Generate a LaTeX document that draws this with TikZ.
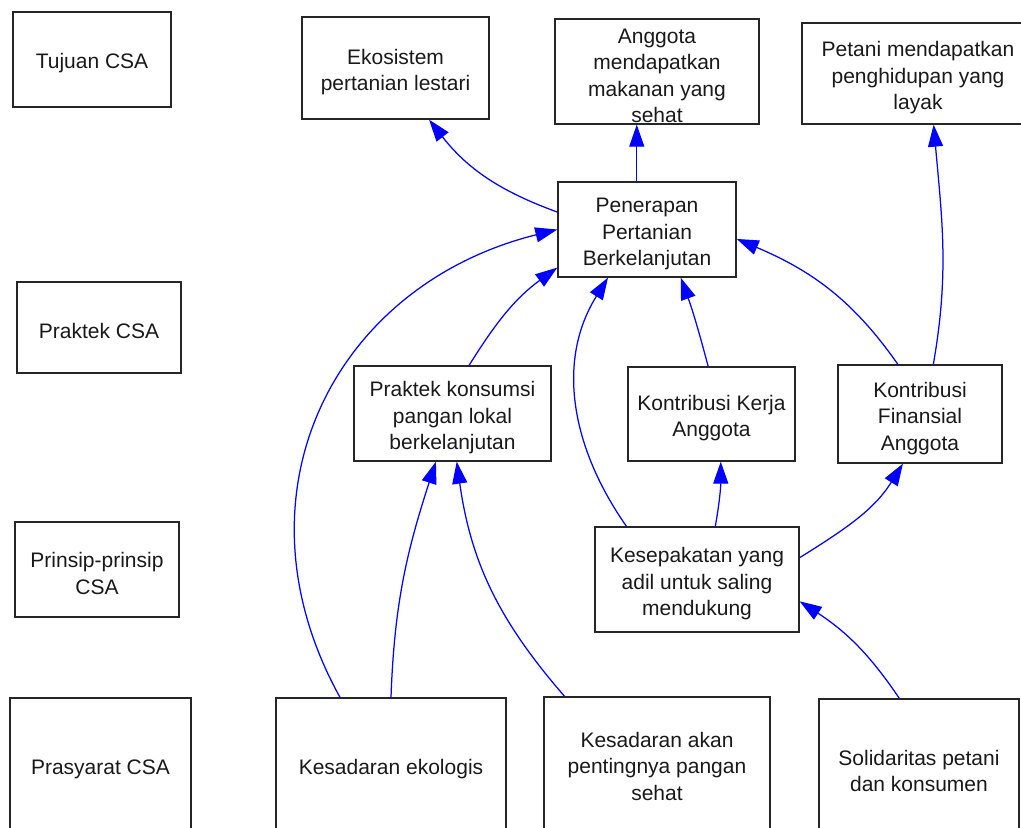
\documentclass[tikz,border=0pt]{standalone}
\usepackage{fontspec}
\setmainfont{Liberation Sans}
\usetikzlibrary{arrows.meta}

\begin{document}
\begin{tikzpicture}[x=1pt,y=-1pt,
  kotak/.style={draw=black!85,line width=1.3pt,align=center,inner sep=0pt,
    text=black!90,font=\fontsize{21}{26.5}\selectfont,text height=23pt},
  dua/.style={text height=50pt},
  tiga/.style={text height=77pt},
  empat/.style={text height=103pt},
  panah/.style={blue,line width=1.25pt,-{Triangle[length=22pt,width=15pt]}}]
  %ukuran gambar
  	\useasboundingbox (0,0) rectangle (1021,828);

  %kolom kiri: tingkatan CSA
  	\node[kotak,minimum width=158pt,minimum height=95pt] (tujuan) at (92,59.5) {Tujuan CSA};
  	\node[kotak,minimum width=164pt,minimum height=91pt] (praktekcsa) at (99,327.5) {Praktek CSA};
  	\node[kotak,dua,minimum width=164pt,minimum height=95pt] (prinsip) at (97,569.5) {Prinsip-prinsip\\CSA};
  	\node[kotak,minimum width=181pt,minimum height=134pt] (prasyarat) at (100.5,765) {Prasyarat CSA};

  %tujuan
  	\node[kotak,dua,minimum width=187pt,minimum height=102pt] (ekosistem) at (395.5,68) {Ekosistem\\pertanian lestari};
  	\node[kotak,empat,minimum width=204pt,minimum height=105pt] (anggota) at (657,71.5) {Anggota\\mendapatkan\\makanan yang\\sehat};
  	\node[kotak,tiga,minimum width=232pt,minimum height=101pt] (petani) at (918,73.5) {Petani mendapatkan\\penghidupan yang\\layak};

  %praktek
  	\node[kotak,tiga,minimum width=178pt,minimum height=95pt] (penerapan) at (647,229.5) {Penerapan\\Pertanian\\Berkelanjutan};
  	\node[kotak,tiga,minimum width=197pt,minimum height=95pt] (konsumsi) at (452.5,413.5) {Praktek konsumsi\\pangan lokal\\berkelanjutan};
  	\node[kotak,dua,minimum width=167pt,minimum height=94pt] (kerja) at (711.5,414) {Kontribusi Kerja\\Anggota};
  	\node[kotak,tiga,minimum width=164pt,minimum height=98pt] (finansial) at (920,414) {Kontribusi\\Finansial\\Anggota};

  %prinsip
  	\node[kotak,tiga,minimum width=204pt,minimum height=105pt] (kesepakatan) at (697,579.5) {Kesepakatan yang\\adil untuk saling\\mendukung};

  %prasyarat
  	\node[kotak,minimum width=230pt,minimum height=134pt] (ekologis) at (391,765) {Kesadaran ekologis};
  	\node[kotak,text height=69pt,minimum width=226pt,minimum height=138pt] (akan) at (657,766) {Kesadaran akan\\pentingnya pangan\\sehat};
  	\node[kotak,dua,minimum width=200pt,minimum height=136pt] (solidaritas) at (919,767) {Solidaritas petani\\dan konsumen};

  %panah ke tujuan
  	\draw[panah] (penerapan.169) to[out=160,in=-52] (ekosistem.-57);
  	\draw[panah] (penerapan.102) -- (penerapan.102 |- anggota.south);
  	\draw[panah] (finansial.75) to[out=80,in=-85] (petani.-73);

  %panah ke penerapan
  	\draw[panah] (finansial.114) to[out=125,in=-23] (penerapan.-6);
  	\draw[panah] (kerja.94) to[out=105,in=-70] (penerapan.-55);
  	\draw[panah] (kesepakatan.143) to[out=125,in=-122] (penerapan.231);
  	\draw[panah] (konsumsi.71) to[out=58,in=216] (penerapan.203);
  	\draw[panah] (ekologis.127) to[out=119,in=194,looseness=1.15] (penerapan.west);

  %panah dari kesepakatan
  	\draw[panah] (kesepakatan.71) to[out=80,in=-90] (kerja.-79);
  	\draw[panah] (kesepakatan.12) to[out=32,in=-122] (finansial.-109);

  %panah dari prasyarat
  	\draw[panah] (solidaritas.106) to[out=124,in=-33] (kesepakatan.-12);
  	\draw[panah] (ekologis.north) to[out=88,in=-108] (konsumsi.-109);
  	\draw[panah] (akan.143) to[out=131,in=-82] (konsumsi.-85);
\end{tikzpicture}
\end{document}
